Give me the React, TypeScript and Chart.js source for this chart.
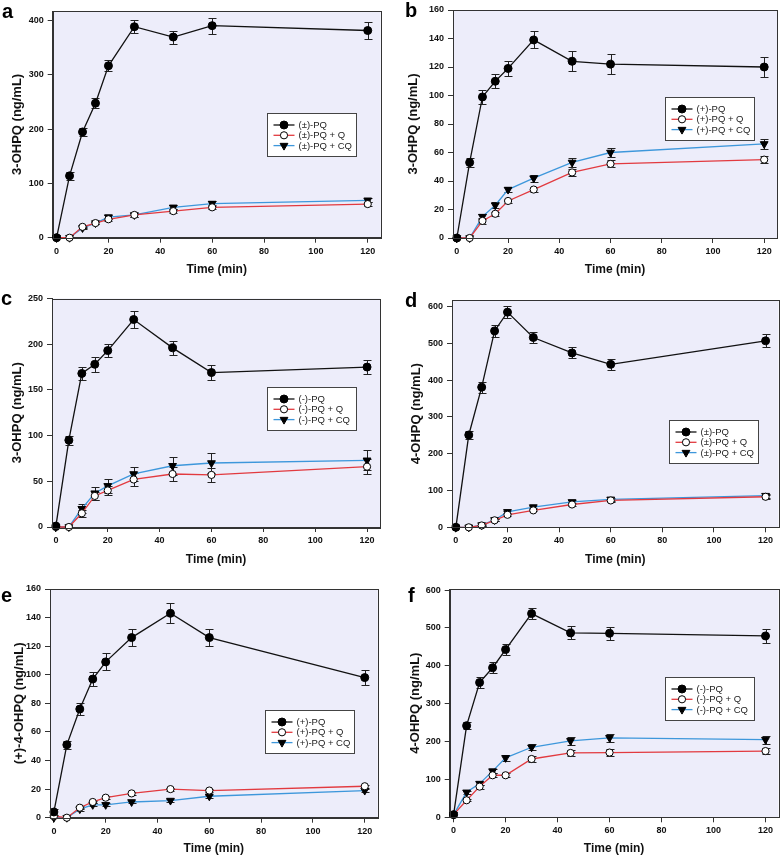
import React, { useEffect, useRef } from 'react';
import { Chart, registerables } from 'chart.js';

Chart.register(...registerables);

const FONT = "'Liberation Sans', Arial, Helvetica, sans-serif";

// sampling times (min)
const timeMin = [0, 5, 10, 15, 20, 30, 45, 60, 120];
const xTicks = [0, 20, 40, 60, 80, 100, 120];

// panel a : 3-OHPQ from (±)-PQ
const aPQ = [0, 114, 195, 248, 317, 389, 370, 391, 382];
const aPQErr = [0, 7, 8, 9, 10, 12, 12, 15, 15];
const aQ = [0, 0, 20, 27, 34, 42, 49, 56, 62];
const aQErr = [0, 0, 2, 2, 3, 3, 3, 4, 4];
const aCQ = [0, 0, 18, 27, 38, 42, 56, 63, 69];
const aCQErr = [0, 0, 2, 2, 3, 3, 4, 4, 4];
const aYTicks = [0, 100, 200, 300, 400];

// panel b : 3-OHPQ from (+)-PQ
const bPQ = [0, 53, 99, 110, 119, 139, 124, 122, 120];
const bPQErr = [0, 3, 5, 5, 5, 6, 7, 7, 7];
const bQ = [0, 0, 12, 17, 26, 34, 46, 52, 55];
const bQErr = [0, 0, 2, 1.5, 1.5, 2, 2.5, 2.5, 2.5];
const bCQ = [0, 0, 15, 23, 34, 42, 53, 60, 66];
const bCQErr = [0, 0, 2, 2, 1.5, 2.5, 3, 3, 3.5];
const bYTicks = [0, 20, 40, 60, 80, 100, 120, 140, 160];

// panel c : 3-OHPQ from (-)-PQ
const cPQ = [1, 95, 168, 178, 193, 227, 196, 169, 175];
const cPQErr = [0, 5, 7, 8, 7, 9, 8, 8, 8];
const cQ = [0, 0, 15, 34, 40, 52, 58, 57, 66];
const cQErr = [0, 0, 4, 4, 5, 7, 8, 8, 8];
const cCQ = [0, 0, 20, 37, 45, 58, 67, 70, 73];
const cCQErr = [0, 0, 5, 7, 8, 8, 10, 11, 11];
const cYTicks = [0, 50, 100, 150, 200, 250];

// panel d : 4-OHPQ from (±)-PQ
const dPQ = [0, 251, 381, 534, 585, 516, 474, 443, 507];
const dPQErr = [0, 12, 15, 17, 17, 16, 15, 15, 18];
const dQ = [0, 0, 5, 19, 34, 46, 62, 73, 83];
const dQErr = [0, 0, 2, 3, 3, 3, 4, 4, 5];
const dCQ = [0, 0, 6, 20, 42, 55, 69, 76, 86];
const dCQErr = [0, 0, 2, 3, 3, 3, 4, 4, 5];
const dYTicks = [0, 100, 200, 300, 400, 500, 600];

// panel e : (+)-4-OHPQ from (+)-PQ
const ePQ = [4, 51, 76, 97, 109, 126, 143, 126, 98];
const ePQErr = [2, 3, 4, 5, 6, 6, 7, 6, 5];
const eQ = [1, 0, 7, 11, 14, 17, 20, 19, 22];
const eQErr = [0, 0, 1, 1, 1, 1, 1, 1, 1];
const eCQ = [0, 0, 6, 9, 9, 11, 12, 15, 19];
const eCQErr = [0, 0, 1, 1, 1, 1, 1, 1, 1];
const eYTicks = [0, 20, 40, 60, 80, 100, 120, 140, 160];

// panel f : 4-OHPQ from (-)-PQ
const fPQ = [7, 242, 356, 395, 443, 538, 487, 486, 479];
const fPQErr = [0, 10, 15, 15, 15, 15, 17, 17, 18];
const fQ = [7, 45, 81, 111, 111, 154, 170, 171, 175];
const fQErr = [0, 3, 5, 5, 5, 7, 9, 9, 9];
const fCQ = [7, 66, 89, 122, 157, 185, 202, 210, 205];
const fCQErr = [0, 4, 5, 6, 7, 8, 10, 11, 11];
const fYTicks = [0, 100, 200, 300, 400, 500, 600];

const namesRac = ['(±)-PQ', '(±)-PQ + Q', '(±)-PQ + CQ'];
const namesPlus = ['(+)-PQ', '(+)-PQ + Q', '(+)-PQ + CQ'];
const namesMinus = ['(-)-PQ', '(-)-PQ + Q', '(-)-PQ + CQ'];

type Panel = {
  letter: string;
  yTitle: string;
  names: string[];
  series: number[][];
  errors: number[][];
  yMax: number;
  yTicks: number[];
  canvas: number[]; // left, top, width, height (page px)
  frame: number[]; // L, T, R, B (page px)
  yTitleX: number;
  xTitleY: number;
  legend: number[]; // left, top (page px)
  letterPos: number[]; // x, baseline (page px)
};

const panels: Panel[] = [
  {
    letter: 'a', yTitle: '3-OHPQ (ng/mL)', names: namesRac,
    series: [aPQ, aQ, aCQ], errors: [aPQErr, aQErr, aCQErr], yMax: 418, yTicks: aYTicks,
    canvas: [0, 0, 392, 285], frame: [52.7, 11, 380.7, 237.7], yTitleX: 17.5, xTitleY: 270,
    legend: [266.7, 113.3], letterPos: [2, 18],
  },
  {
    letter: 'b', yTitle: '3-OHPQ (ng/mL)', names: namesPlus,
    series: [bPQ, bQ, bCQ], errors: [bPQErr, bQErr, bCQErr], yMax: 160, yTicks: bYTicks,
    canvas: [392, 0, 392, 285], frame: [453, 10, 777, 238], yTitleX: 413, xTitleY: 270,
    legend: [665.3, 97.3], letterPos: [405, 17],
  },
  {
    letter: 'c', yTitle: '3-OHPQ (ng/mL)', names: namesMinus,
    series: [cPQ, cQ, cCQ], errors: [cPQErr, cQErr, cCQErr], yMax: 250, yTicks: cYTicks,
    canvas: [0, 285, 392, 285], frame: [52, 298.5, 380, 527], yTitleX: 17.5, xTitleY: 560,
    legend: [266.7, 386.7], letterPos: [1, 305],
  },
  {
    letter: 'd', yTitle: '4-OHPQ (ng/mL)', names: namesRac,
    series: [dPQ, dQ, dCQ], errors: [dPQErr, dQErr, dCQErr], yMax: 618, yTicks: dYTicks,
    canvas: [392, 285, 392, 285], frame: [452, 300, 782, 527.3], yTitleX: 416, xTitleY: 560,
    legend: [668.7, 420], letterPos: [405, 307],
  },
  {
    letter: 'e', yTitle: '(+)-4-OHPQ (ng/mL)', names: namesPlus,
    series: [ePQ, eQ, eCQ], errors: [ePQErr, eQErr, eCQErr], yMax: 160, yTicks: eYTicks,
    canvas: [0, 570, 392, 289], frame: [50, 589, 377.7, 817.7], yTitleX: 19, xTitleY: 849,
    legend: [265, 710], letterPos: [1, 602],
  },
  {
    letter: 'f', yTitle: '4-OHPQ (ng/mL)', names: namesMinus,
    series: [fPQ, fQ, fCQ], errors: [fPQErr, fQErr, fCQErr], yMax: 603, yTicks: fYTicks,
    canvas: [392, 570, 392, 289], frame: [449.7, 589, 778.7, 817.3], yTitleX: 415, xTitleY: 849,
    legend: [664.7, 677.3], letterPos: [408, 602],
  },
];

const LINE_COLORS = ['#111111', '#e23a3f', '#3d97db'];
const PLOT_BG = '#ededfa';

function drawMarker(ctx: CanvasRenderingContext2D, kind: number, x: number, y: number) {
  ctx.save();
  ctx.lineWidth = 1;
  ctx.strokeStyle = '#000';
  ctx.beginPath();
  if (kind === 2) {
    const r = 4.5;
    ctx.moveTo(x, y + r);
    ctx.lineTo(x - r * Math.sin(Math.PI / 3), y - r / 2);
    ctx.lineTo(x + r * Math.sin(Math.PI / 3), y - r / 2);
    ctx.closePath();
    ctx.fillStyle = '#000';
  } else {
    ctx.arc(x, y, kind === 1 ? 3.6 : 4, 0, Math.PI * 2);
    ctx.fillStyle = kind === 1 ? '#fff' : '#000';
  }
  ctx.fill();
  ctx.stroke();
  ctx.restore();
}

function ChartPanel({ p }: { p: Panel }) {
  const ref = useRef<HTMLCanvasElement>(null);
  useEffect(() => {
    const [cl, ct, cw, ch] = p.canvas;
    const [L, T, R, B] = p.frame;

    const panelPlugin = {
      id: 'panelDecor',
      beforeDraw(chart: any) {
        const { ctx, chartArea } = chart;
        ctx.save();
        ctx.fillStyle = PLOT_BG;
        ctx.fillRect(chartArea.left, chartArea.top, chartArea.right - chartArea.left, chartArea.bottom - chartArea.top);
        ctx.restore();
      },
      beforeDatasetsDraw(chart: any) {
        const { ctx } = chart;
        const xs = chart.scales.x;
        const ys = chart.scales.y;
        ctx.save();
        ctx.strokeStyle = '#222';
        ctx.lineWidth = 1;
        p.series.forEach((s, i) => {
          s.forEach((v, j) => {
            const e = p.errors[i][j];
            if (!e) return;
            const x = Math.round(xs.getPixelForValue(timeMin[j])) + 0.5;
            const y1 = Math.round(ys.getPixelForValue(v - e)) + 0.5;
            const y2 = Math.round(ys.getPixelForValue(v + e)) + 0.5;
            ctx.beginPath();
            ctx.moveTo(x, y1);
            ctx.lineTo(x, y2);
            ctx.moveTo(x - 4, y1);
            ctx.lineTo(x + 4, y1);
            ctx.moveTo(x - 4, y2);
            ctx.lineTo(x + 4, y2);
            ctx.stroke();
          });
        });
        ctx.restore();
      },
      afterDraw(chart: any) {
        const { ctx, chartArea } = chart;
        ctx.save();
        // frame
        ctx.strokeStyle = '#333';
        ctx.lineWidth = 1;
        ctx.strokeRect(Math.round(chartArea.left) + 0.5, Math.round(chartArea.top) + 0.5,
          Math.round(chartArea.right - chartArea.left), Math.round(chartArea.bottom - chartArea.top));
        // legend
        const lx = Math.round(p.legend[0] - cl) + 0.5;
        const ly = Math.round(p.legend[1] - ct) + 0.5;
        const lw = 89;
        const lh = 43;
        ctx.fillStyle = '#ffffff';
        ctx.fillRect(lx, ly, lw, lh);
        ctx.strokeStyle = '#444';
        ctx.strokeRect(lx, ly, lw, lh);
        ctx.font = `9.5px ${FONT}`;
        ctx.textBaseline = 'middle';
        ctx.textAlign = 'left';
        p.names.forEach((name, i) => {
          const ry = ly + 11.5 + i * 10.3;
          ctx.strokeStyle = LINE_COLORS[i];
          ctx.lineWidth = 1.3;
          ctx.beginPath();
          ctx.moveTo(lx + 6, ry);
          ctx.lineTo(lx + 27, ry);
          ctx.stroke();
          drawMarker(ctx, i, lx + 16.5, ry);
          ctx.fillStyle = '#222';
          ctx.fillText(name, lx + 31, ry + 0.5);
        });
        // panel letter
        ctx.fillStyle = '#000';
        ctx.font = `bold 20px ${FONT}`;
        ctx.textBaseline = 'alphabetic';
        ctx.fillText(p.letter, p.letterPos[0] - cl, p.letterPos[1] - ct);
        ctx.restore();
      },
    };

    const tickFont = { family: FONT, size: 9, weight: 'bold' as const };
    const xTitleFont = { family: FONT, size: 12, weight: 'bold' as const };
    const yTitleFont = { family: FONT, size: 13, weight: 'bold' as const };

    const chart = new Chart(ref.current as HTMLCanvasElement, {
      type: 'line',
      data: {
        datasets: p.series.map((s, i) => ({
          label: p.names[i],
          data: s.map((v, j) => ({ x: timeMin[j], y: v })),
          borderColor: LINE_COLORS[i],
          borderWidth: 1.3,
          pointStyle: i === 2 ? 'triangle' : 'circle',
          pointRotation: i === 2 ? 180 : 0,
          pointRadius: i === 2 ? 4.5 : i === 1 ? 3.6 : 4,
          pointBackgroundColor: i === 1 ? '#ffffff' : '#000000',
          pointBorderColor: '#000000',
          pointBorderWidth: 1,
          tension: 0,
          clip: false as any,
          fill: false,
        })),
      },
      options: {
        responsive: false,
        animation: false,
        events: [],
        layout: { padding: { left: 0, top: T - ct, right: cl + cw - R, bottom: 0 } },
        plugins: { legend: { display: false }, tooltip: { enabled: false } },
        scales: {
          x: {
            type: 'linear',
            min: -1.5,
            max: 125,
            afterBuildTicks: (s: any) => { s.ticks = xTicks.map((v) => ({ value: v })); },
            afterFit: (s: any) => { s.height = ct + ch - B; },
            grid: { drawOnChartArea: false, drawTicks: true, tickLength: 5, color: '#333', lineWidth: 1 },
            border: { display: true, color: '#333', width: 1 },
            ticks: { font: tickFont, color: '#111', padding: 3, maxRotation: 0, autoSkip: false },
            title: { display: true, text: 'Time (min)', font: xTitleFont, color: '#111', padding: { top: 0, bottom: ct + ch - p.xTitleY - 7.2 } },
          },
          y: {
            type: 'linear',
            min: 0,
            max: p.yMax,
            afterBuildTicks: (s: any) => { s.ticks = p.yTicks.map((v) => ({ value: v })); },
            afterFit: (s: any) => { s.width = L - cl; },
            grid: { drawOnChartArea: false, drawTicks: true, tickLength: 5, color: '#333', lineWidth: 1 },
            border: { display: true, color: '#333', width: 1 },
            ticks: { font: tickFont, color: '#111', padding: 4, autoSkip: false },
            title: { display: true, text: p.yTitle, font: yTitleFont, color: '#111', padding: { top: p.yTitleX - cl - 7.8, bottom: 0 } },
          },
        },
      } as any,
      plugins: [panelPlugin],
    });
    return () => chart.destroy();
  }, [p]);
  const [cl, ct, cw, ch] = p.canvas;
  return (
    <canvas
      ref={ref}
      width={cw}
      height={ch}
      style={{ position: 'absolute', left: cl, top: ct, width: cw, height: ch }}
    />
  );
}

export default function App() {
  return (
    <div style={{ position: 'absolute', left: 0, top: 0, width: 784, height: 859, background: '#ffffff', overflow: 'hidden' }}>
      {panels.map((p) => (
        <ChartPanel key={p.letter} p={p} />
      ))}
    </div>
  );
}
